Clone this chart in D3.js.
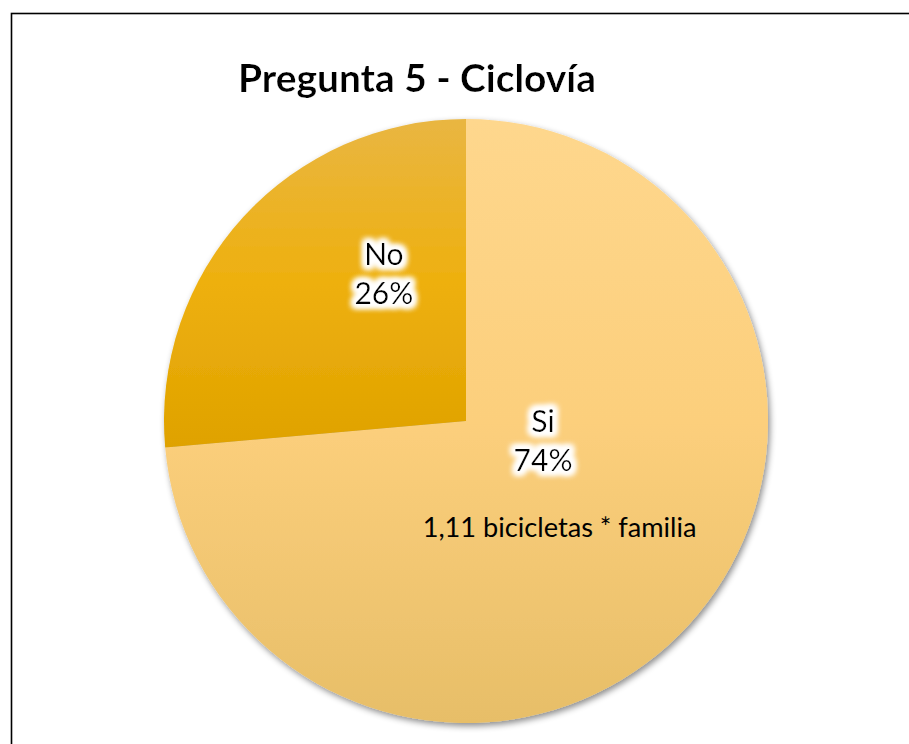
<!DOCTYPE html>
<html><head><meta charset="utf-8">
<script src="https://cdn.jsdelivr.net/npm/d3@7"></script>
<style>html,body{margin:0;padding:0;background:#fff;overflow:hidden}</style>
</head><body>
<svg id="c" width="909" height="744"></svg>
<script>
const title = "Pregunta 5 - Ciclovía";
const categories = ["Si", "No"];
const values = [73.6, 26.4];
const percentLabels = ["74%", "26%"];
const note = "1,11 bicicletas * familia";

const W = 909, H = 744;
const svg = d3.select("#c");
const defs = svg.append("defs");

const grads = [
  {id:"gSi", stops:[["0%","#FED78D"],["50%","#FCCF7C"],["100%","#E7BE68"]]},
  {id:"gNo", stops:[["0%","#E9B642"],["50%","#EEB00E"],["100%","#DFA200"]]}
];
grads.forEach(g=>{
  const lg = defs.append("linearGradient").attr("id",g.id).attr("x1",0).attr("y1",0).attr("x2",0).attr("y2",1);
  g.stops.forEach(s=>lg.append("stop").attr("offset",s[0]).attr("stop-color",s[1]));
});
const sh = defs.append("filter").attr("id","shadow").attr("x","-10%").attr("y","-10%").attr("width","120%").attr("height","120%");
sh.append("feDropShadow").attr("dx",2).attr("dy",3).attr("stdDeviation",3).attr("flood-color","#000").attr("flood-opacity",0.45);

function makeGlow(id, rad, blur, n){
  const f = defs.append("filter").attr("id",id).attr("x","-30%").attr("y","-50%").attr("width","160%").attr("height","200%");
  f.append("feMorphology").attr("in","SourceAlpha").attr("operator","dilate").attr("radius",rad).attr("result","d");
  f.append("feGaussianBlur").attr("in","d").attr("stdDeviation",blur).attr("result","b");
  f.append("feFlood").attr("flood-color","#fff").attr("result","f");
  f.append("feComposite").attr("in","f").attr("in2","b").attr("operator","in").attr("result","g");
  const m = f.append("feMerge");
  for(let k=0;k<n;k++) m.append("feMergeNode").attr("in","g");
  m.append("feMergeNode").attr("in","SourceGraphic");
}
makeGlow("glow",3,3,3);
makeGlow("tglow",2,3,1);

svg.append("rect").attr("x",11.5).attr("y",13.5).attr("width",W+20).attr("height",H)
  .attr("fill","#fff").attr("stroke","#000").attr("stroke-width",1.6);

const font = "Lato, 'Open Sans', sans-serif";
const tt = svg.append("text").attr("x",417).attr("y",92).attr("text-anchor","middle")
  .attr("font-family",font).attr("font-weight","bold")
  .attr("font-size",40).attr("fill","#000").attr("filter","url(#tglow)").text(title);
const tw = tt.node().getComputedTextLength();
tt.attr("font-size", 40*358/tw);

const cx = 466, cy = 421, R = 302;
const pie = d3.pie().sort(null).value(d=>d)(values);
const arc = d3.arc().innerRadius(0).outerRadius(R);
const g = svg.append("g").attr("transform",`translate(${cx},${cy})`);
g.append("g").attr("filter","url(#shadow)")
  .selectAll("path").data(pie).join("path")
  .attr("d",arc)
  .attr("fill",(d,i)=>`url(#${grads[i].id})`);

const labelPos = [[0.255, 0.036],[-0.272, -0.517]];
const labelSize = 30;
pie.forEach((d,i)=>{
  const t = g.append("text").attr("text-anchor","middle").attr("font-family",font)
    .attr("font-size",labelSize).attr("fill","#000").attr("filter","url(#glow)");
  t.append("tspan").attr("x",R*labelPos[i][0]).attr("y",R*labelPos[i][1]).text(categories[i]);
  t.append("tspan").attr("x",R*labelPos[i][0]).attr("y",R*labelPos[i][1]+39).text(percentLabels[i]);
});
const nt = g.append("text").attr("text-anchor","middle").attr("font-family",font)
  .attr("font-size",25).attr("fill","#000").attr("x",R*0.31).attr("y",R*0.384).text(note);
const nw = nt.node().getComputedTextLength();
nt.attr("font-size",25*274/nw);
</script>
</body></html>
